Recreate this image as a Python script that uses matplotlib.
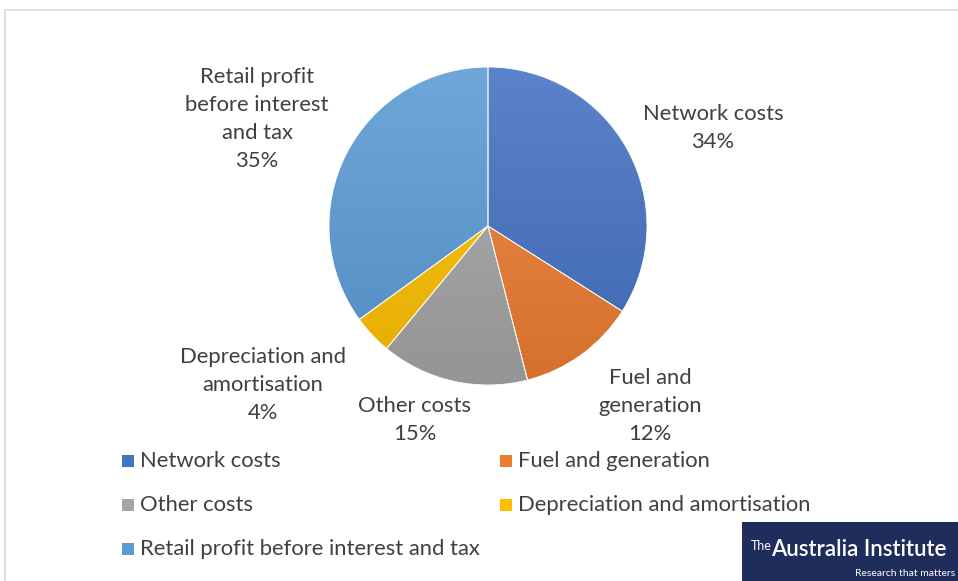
import numpy as np
import matplotlib
matplotlib.use("Agg")
import matplotlib.pyplot as plt
from matplotlib.patches import Rectangle
from matplotlib.lines import Line2D
from matplotlib.colors import to_rgb

# Shares of the retail electricity bill
categories = ["Network costs", "Fuel and generation", "Other costs",
              "Depreciation and amortisation", "Retail profit before interest and tax"]
shares = [34, 12, 15, 4, 35]
slice_labels = ["Network costs\n34%", "Fuel and\ngeneration\n12%", "Other costs\n15%",
                "Depreciation and\namortisation\n4%", "Retail profit\nbefore interest\nand tax\n35%"]
base_colors = ["#4472C4", "#ED7D31", "#A5A5A5", "#FFC000", "#5B9BD5"]

W, H = 958, 581
FONT = ["Lato", "DejaVu Sans"]
TEXT = "#404040"
FS = 15.8


def px(x, y):
    return x / W, 1 - y / H


fig = plt.figure(figsize=(W / 100, H / 100), dpi=100)
fig.patch.set_facecolor("white")

# light chart-area frame
fig.add_artist(Line2D([4.5 / W, 4.5 / W], [0, 1 - 9.5 / H], color="#d9d9d9", lw=1.2,
                      transform=fig.transFigure))
fig.add_artist(Line2D([4.5 / W, 1], [1 - 9.5 / H, 1 - 9.5 / H], color="#d9d9d9", lw=1.2,
                      transform=fig.transFigure))

# pie axes
cx, cy, r = 488, 226, 159
ax = fig.add_axes([(cx - r) / W, (H - cy - r) / H, 2 * r / W, 2 * r / H])
wedges, _ = ax.pie(shares, startangle=90, counterclock=False, radius=1,
                   wedgeprops=dict(edgecolor="white", linewidth=0.6))
ax.set_xlim(-1, 1)
ax.set_ylim(-1, 1)
ax.set_aspect("equal")
ax.axis("off")


def mix(c, t, amount):
    c = np.array(to_rgb(c))
    return c + (np.array(t) - c) * amount


# vertical gradient fill, lighter at the top, clipped to each wedge
ys = np.linspace(1, 0, 256)[:, None]
for w, col in zip(wedges, base_colors):
    top = mix(col, (1, 1, 1), 0.12)
    bot = mix(col, (0, 0, 0), 0.10)
    grad = top[None, None, :] * ys[..., None] + bot[None, None, :] * (1 - ys[..., None])
    grad = np.repeat(grad, 2, axis=1)
    w.set_facecolor("none")
    im = ax.imshow(grad, extent=(-1, 1, -1, 1), origin="upper", aspect="auto",
                   interpolation="bilinear", zorder=w.get_zorder() - 0.5)
    im.set_clip_path(w)

# slice labels
label_pos = [(713, 128), (650, 406), (415, 420), (263, 385), (257, 119)]
for txt, (x, y) in zip(slice_labels, label_pos):
    fig.text(*px(x, y), txt, ha="center", va="center", fontsize=FS, color=TEXT,
             family=FONT, linespacing=1.52)

# legend
legend_pos = [(128, 461), (506, 461), (128, 505), (506, 505), (128, 549)]
for name, col, (x, y) in zip(categories, base_colors, legend_pos):
    fig.add_artist(Rectangle(px(x - 6, y + 6), 12 / W, 12 / H, transform=fig.transFigure,
                             facecolor=col, edgecolor="none"))
    fig.text(*px(x + 12, y), name, ha="left", va="center", fontsize=FS, color=TEXT,
             family=FONT)

# institute badge
fig.add_artist(Rectangle(px(742, 581), (W - 742) / W, 59 / H, transform=fig.transFigure,
                         facecolor="#1F2C5C", edgecolor="none"))
fig.text(*px(751, 546), "The", ha="left", va="center", fontsize=9, color="white",
         family=FONT)
fig.text(*px(771, 550), "Australia Institute", ha="left", va="center", fontsize=16,
         color="white", family=FONT, fontweight="semibold")
fig.text(*px(955, 573), "Research that matters", ha="right", va="center", fontsize=7.5,
         color="white", family=FONT)

fig.savefig("out.png", dpi=100, facecolor="white")
